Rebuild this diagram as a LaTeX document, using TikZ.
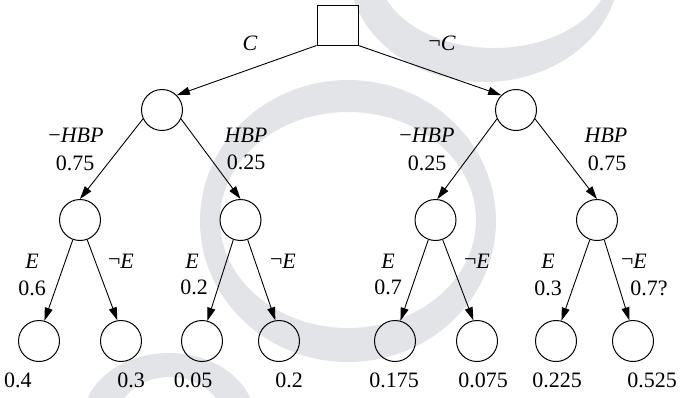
\documentclass[tikz,border=0pt]{standalone}
\usepackage{fontspec}
\setmainfont{Liberation Serif}
\usetikzlibrary{arrows.meta}
\definecolor{wmgray}{RGB}{227,228,232}
\newcommand{\nicht}{\raisebox{1pt}{¬}}
\tikzset{
  chance/.style={circle, draw, line width=0.5pt, minimum size=20.5pt, inner sep=0pt},
  decision/.style={rectangle, draw, line width=0.5pt, minimum width=20.5pt, minimum height=20pt, inner sep=0pt},
  arr/.style={-{Triangle[length=6.5pt,width=4pt]}, line width=0.45pt},
  lbl/.style={inner sep=0pt, font=\fontsize{11}{13}\selectfont},
}

\begin{document}
\begin{tikzpicture}[x=0.5pt, y=-0.5pt]
\useasboundingbox (0,0) rectangle (680,397);
% grey strokes behind the tree
\begin{scope}
    \clip (0,0) rectangle (680,397);
    \fill[wmgray, even odd rule] (484,-30) ellipse [x radius=135, y radius=112] (494,-30) ellipse [x radius=116, y radius=78];
    \fill[wmgray, even odd rule] (348,221) ellipse [x radius=148, y radius=141] (348,220) ellipse [x radius=128, y radius=108];
    \fill[wmgray, even odd rule] (169,420) ellipse [x radius=86, y radius=67] (170,420) ellipse [x radius=53, y radius=43];
\end{scope}

% decision and first chance nodes
\node[decision] (root) at (337.5,25) {};
\node[chance] (c) at (162,110) {};
\node[chance] (nc) at (516,110) {};
\draw[arr] (root.south west) -- (c.north east);
\draw[arr] (root.south east) -- (nc.north west);
\node[lbl] (lc) at (250,43) {\textit{C}};
\node[lbl] (lnc) at (442,43) {\nicht\textit{C}};

% test nodes
\node[chance] (a1) at (80,220) {};
\node[chance] (a2) at (240.5,220) {};
\node[chance] (a3) at (435.5,220) {};
\node[chance] (a4) at (597,220) {};
\draw[arr] (c.205) -- (a1.north);
\draw[arr] (c.-25) -- (a2.north);
\draw[arr] (nc.205) -- (a3.85);
\draw[arr] (nc.-25) -- (a4.north);
\node[lbl] (h1) at (76,135) {−\textit{HBP}};
\node[lbl] (p1) at (75,163) {0.75};
\node[lbl] (h2) at (246,135) {\textit{HBP}};
\node[lbl] (p2) at (246,162) {0.25};
\node[lbl] (h3) at (427,135) {−\textit{HBP}};
\node[lbl] (p3) at (427,163) {0.25};
\node[lbl] (h4) at (606,135) {\textit{HBP}};
\node[lbl] (p4) at (607,163) {0.75};

% outcomes
\foreach \lx/\vx/\val [count=\i] in {39/18/0.4, 121/131/0.3, 202/193/0.05, 279/289/0.2, 395/394/0.175, 477/483/0.075, 556/557/0.225, 633/652/0.525} {
    \node[chance] (b\i) at (\lx,341) {};
    \node[lbl] (v\i) at (\vx,380) {\val};
}
\foreach \p/\l/\r in {1/1/2, 2/3/4, 3/5/6, 4/7/8} {
    \draw[arr] (a\p.250) -- (b\l.75);
    \draw[arr] (a\p.290) -- (b\r.100);
}
\node[lbl] (e1) at (32,261) {\textit{E}};
\node[lbl] (q1) at (32,288) {0.6};
\node[lbl] (ne1) at (121,261) {\nicht\textit{E}};
\node[lbl] (e2) at (192,261) {\textit{E}};
\node[lbl] (q2) at (194,287) {0.2};
\node[lbl] (ne2) at (283,261) {\nicht\textit{E}};
\node[lbl] (e3) at (388,261) {\textit{E}};
\node[lbl] (q3) at (388,287) {0.7};
\node[lbl] (ne3) at (477,261) {\nicht\textit{E}};
\node[lbl] (e4) at (548,261) {\textit{E}};
\node[lbl] (q4) at (548,288) {0.3};
\node[lbl] (ne4) at (634,261) {\nicht\textit{E}};
\node[lbl] (nq4) at (649,288) {0.7?};
\end{tikzpicture}
\end{document}
